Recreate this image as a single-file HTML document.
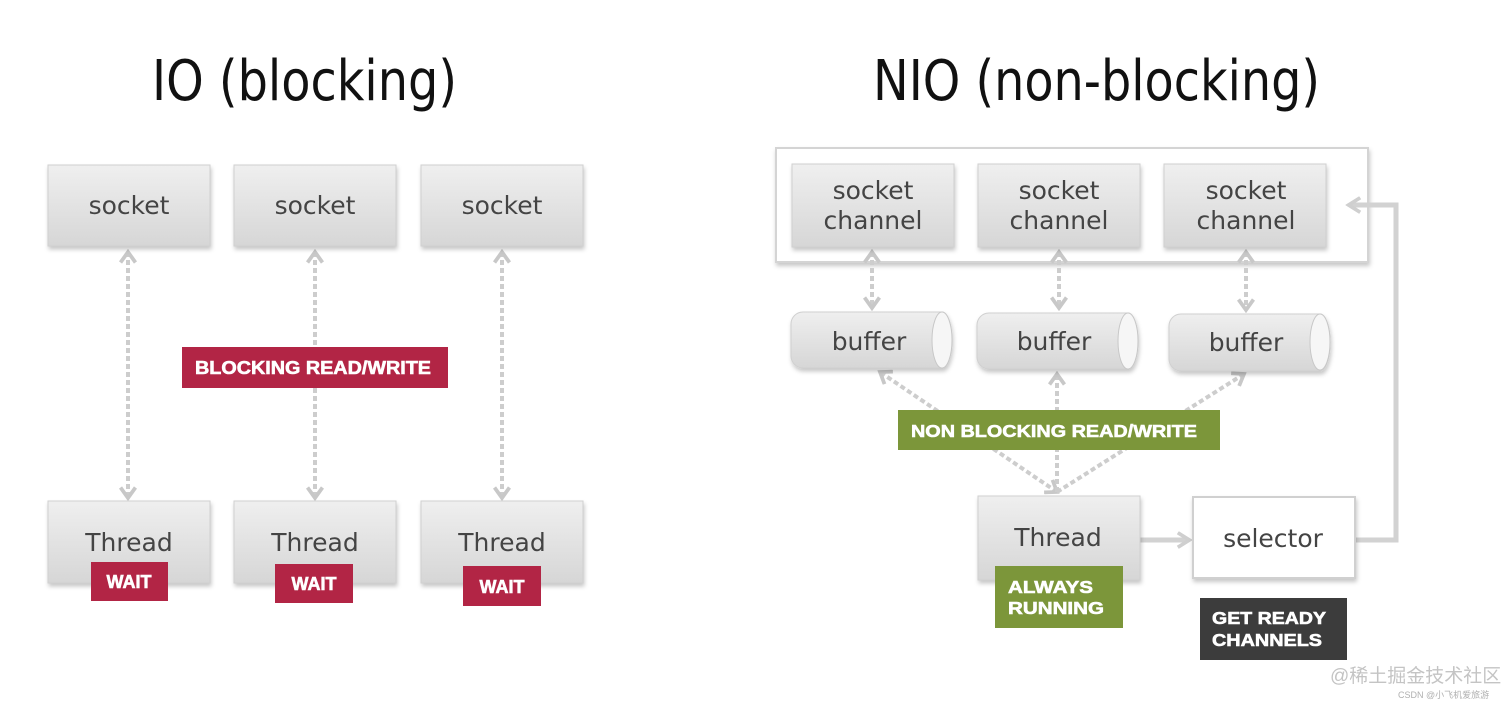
<!DOCTYPE html>
<html><head><meta charset="utf-8"><style>
html,body{margin:0;padding:0;background:#fff;}
svg{display:block;}
.t{font-family:"DejaVu Sans","Liberation Sans",sans-serif;fill:#444;}
.b{font-family:"Liberation Sans",sans-serif;font-weight:bold;fill:#fff;stroke:#fff;stroke-width:0.6;}
</style></head><body>
<svg width="1512" height="705" viewBox="0 0 1512 705" xmlns="http://www.w3.org/2000/svg">
<defs>
<linearGradient id="g" x1="0" y1="0" x2="0" y2="1">
<stop offset="0" stop-color="#efefef"/><stop offset="1" stop-color="#d6d6d6"/></linearGradient>
<filter id="s" x="-10%" y="-10%" width="125%" height="130%"><feDropShadow dx="1" dy="3" stdDeviation="2" flood-color="#000" flood-opacity="0.22"/></filter>
<marker id="ah" viewBox="0 0 12 12" refX="10" refY="6" markerWidth="4.5" markerHeight="4.5" orient="auto-start-reverse" markerUnits="strokeWidth">
<path d="M3,1 L10,6 L3,11" fill="none" stroke="#c8c8c8" stroke-width="2.5"/></marker>
<marker id="ah2" viewBox="0 0 12 12" refX="9" refY="6" markerWidth="3.5" markerHeight="3.5" orient="auto" markerUnits="strokeWidth">
<path d="M2,1 L10,6 L2,11" fill="none" stroke="#cfcfcf" stroke-width="2.5"/></marker>
</defs>

<text class="t" x="152" y="100" font-size="56" style="fill:#111" textLength="305" lengthAdjust="spacingAndGlyphs">IO (blocking)</text>
<text class="t" x="873" y="100" font-size="56" style="fill:#111" textLength="447" lengthAdjust="spacingAndGlyphs">NIO (non-blocking)</text>

<g stroke="#cdcdcd" stroke-width="4" stroke-dasharray="5,3" fill="none">
<line x1="128" y1="252" x2="128" y2="498" marker-start="url(#ah)" marker-end="url(#ah)"/>
<line x1="315" y1="252" x2="315" y2="498" marker-start="url(#ah)" marker-end="url(#ah)"/>
<line x1="502" y1="252" x2="502" y2="498" marker-start="url(#ah)" marker-end="url(#ah)"/>
</g>

<g filter="url(#s)" fill="url(#g)" stroke="#d0d0d0">
<rect x="48" y="165" width="162" height="81"/>
<rect x="234" y="165" width="162" height="81"/>
<rect x="421" y="165" width="162" height="81"/>
<rect x="48" y="501" width="162" height="82"/>
<rect x="234" y="501" width="162" height="82"/>
<rect x="421" y="501" width="162" height="82"/>
</g>
<g class="t" font-size="25" text-anchor="middle">
<text x="129" y="214">socket</text><text x="315" y="214">socket</text><text x="502" y="214">socket</text>
<text x="129" y="551">Thread</text><text x="315" y="551">Thread</text><text x="502" y="551">Thread</text>
</g>
<rect x="182" y="347" width="266" height="41" fill="#b22545"/>
<text class="b" x="195" y="374" font-size="18" textLength="236" lengthAdjust="spacingAndGlyphs">BLOCKING READ/WRITE</text>
<rect x="91" y="562" width="77" height="39" fill="#b22545"/>
<rect x="275" y="564" width="78" height="39" fill="#b22545"/>
<rect x="463" y="566" width="78" height="40" fill="#b22545"/>
<g class="b" font-size="18" text-anchor="middle">
<text x="129" y="588">WAIT</text><text x="314" y="590">WAIT</text><text x="502" y="593">WAIT</text></g>

<rect x="776" y="148" width="592" height="114" fill="#fff" stroke="#d4d4d4" stroke-width="2" filter="url(#s)"/>
<g stroke="#cdcdcd" stroke-width="4" stroke-dasharray="5,3" fill="none">
<line x1="872" y1="252" x2="872" y2="308" marker-start="url(#ah)" marker-end="url(#ah)"/>
<line x1="1059" y1="252" x2="1059" y2="308" marker-start="url(#ah)" marker-end="url(#ah)"/>
<line x1="1246" y1="252" x2="1246" y2="310" marker-start="url(#ah)" marker-end="url(#ah)"/>
<line x1="1057" y1="492" x2="880" y2="372" marker-start="url(#ah)" marker-end="url(#ah)"/>
<line x1="1057" y1="492" x2="1057" y2="374" marker-end="url(#ah)"/>
<line x1="1057" y1="492" x2="1244" y2="374" marker-end="url(#ah)"/>
</g>
<g fill="none" stroke="#d2d2d2" stroke-width="5">
<line x1="1140" y1="540" x2="1188" y2="540" marker-end="url(#ah2)"/>
<polyline points="1355,540 1396,540 1396,205 1350,205" marker-end="url(#ah2)"/>
</g>

<g filter="url(#s)" fill="url(#g)" stroke="#d0d0d0">
<rect x="792" y="164" width="162" height="83"/>
<rect x="978" y="164" width="162" height="83"/>
<rect x="1164" y="164" width="162" height="83"/>
<path d="M803,312 H942 A10,28 0 0 1 942,368 H803 A12,12 0 0 1 791,356 V324 A12,12 0 0 1 803,312 Z"/>
<path d="M989,313 H1128 A10,28 0 0 1 1128,369 H989 A12,12 0 0 1 977,357 V325 A12,12 0 0 1 989,313 Z"/>
<path d="M1181,314 H1320 A10,28 0 0 1 1320,371 H1181 A12,12 0 0 1 1169,359 V326 A12,12 0 0 1 1181,314 Z"/>
<rect x="978" y="496" width="162" height="84"/>
</g>
<g fill="#f6f6f6" stroke="#c8c8c8">
<ellipse cx="942" cy="340" rx="10" ry="28"/>
<ellipse cx="1128" cy="341" rx="10" ry="28"/>
<ellipse cx="1320" cy="342" rx="10" ry="28"/>
</g>
<rect x="1193" y="497" width="162" height="81" fill="#fff" stroke="#d0d0d0" stroke-width="2" filter="url(#s)"/>
<g class="t" font-size="25" text-anchor="middle">
<text x="873" y="199">socket</text><text x="873" y="229">channel</text>
<text x="1059" y="199">socket</text><text x="1059" y="229">channel</text>
<text x="1246" y="199">socket</text><text x="1246" y="229">channel</text>
<text x="869" y="350">buffer</text><text x="1054" y="350">buffer</text><text x="1246" y="351">buffer</text>
<text x="1058" y="546">Thread</text><text x="1273" y="547">selector</text>
</g>
<rect x="898" y="410" width="322" height="40" fill="#7c963a"/>
<text class="b" x="911" y="437" font-size="17.5" textLength="286" lengthAdjust="spacingAndGlyphs">NON BLOCKING READ/WRITE</text>
<rect x="995" y="566" width="128" height="62" fill="#7c963a"/>
<text class="b" x="1008" y="593" font-size="17.5" textLength="85" lengthAdjust="spacingAndGlyphs">ALWAYS</text>
<text class="b" x="1008" y="614" font-size="17.5" textLength="96" lengthAdjust="spacingAndGlyphs">RUNNING</text>
<rect x="1200" y="598" width="147" height="62" fill="#3c3c3c"/>
<text class="b" x="1212" y="624" font-size="17.5" textLength="114" lengthAdjust="spacingAndGlyphs">GET READY</text>
<text class="b" x="1212" y="646" font-size="17.5" textLength="110" lengthAdjust="spacingAndGlyphs">CHANNELS</text>

<text x="1330" y="682" font-size="19" fill="#c4c4c4" font-family="'Liberation Sans','Noto Sans CJK SC',sans-serif">@稀土掘金技术社区</text>
<text x="1398" y="698" font-size="9" fill="#b0b0b0" font-family="'Liberation Sans','Noto Sans CJK SC',sans-serif">CSDN @小飞机爱旅游</text>
</svg>
</body></html>
